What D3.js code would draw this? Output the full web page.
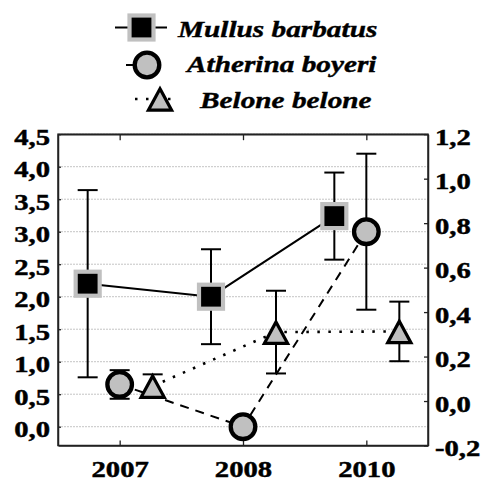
<!DOCTYPE html>
<html>
<head>
<meta charset="utf-8">
<script src="https://cdn.jsdelivr.net/npm/d3@7/dist/d3.min.js"></script>
<style>
  html, body { margin: 0; padding: 0; background: #fff; }
  svg { display: block; }
</style>
</head>
<body>
<svg id="chart" width="482" height="483"></svg>
<script>
// Sampling years
const years = ["2007", "2008", "2010"];

// Mullus barbatus (left axis): mean and half-width of the error bar
const mullusMean = [2.2, 2.0, 3.24];
const mullusErr  = [1.44, 0.73, 0.67];

// Atherina boyeri (left axis)
const atherinaMean = [0.65, 0.0, 3.0];
const atherinaErr  = [0.22, 0.0, 1.2];

// Belone belone (right axis)
const beloneMean = [0.067, 0.31, 0.313];
const beloneErr  = [0.053, 0.186, 0.134];

// Axis ticks
const leftTicks  = [0, 0.5, 1, 1.5, 2, 2.5, 3, 3.5, 4, 4.5];
const rightTicks = [-0.2, 0, 0.2, 0.4, 0.6, 0.8, 1.0, 1.2];

const seriesNames = ["Mullus barbatus", "Atherina boyeri", "Belone belone"];

const svg = d3.select("#chart");
const GRAY = "#c0c0c0";
const SX = 1.22;          // horizontal stretch of the lettering
const FONT = 23.5;
const FAMILY = "'Liberation Serif', 'Times New Roman', serif";

const plot = { left: 58, right: 428, top: 134.2, bottom: 445.5 };

const locale = d3.formatLocale({ decimal: ",", thousands: " ", grouping: [3], currency: ["", ""], minus: "-" });
const fmt = locale.format(".1f");

const x = d3.scalePoint().domain(years).range([plot.left, plot.right]).padding(0.5);
const yL = d3.scaleLinear().domain([-0.289, 4.5]).range([plot.bottom, plot.top]);
const yR = d3.scaleLinear().domain([-0.2, 1.2]).range([plot.bottom, plot.top]);

// Grid lines on the left-axis ticks
svg.append("g").selectAll("line").data(leftTicks).join("line")
  .attr("x1", plot.left).attr("x2", plot.right)
  .attr("y1", d => yL(d)).attr("y2", d => yL(d))
  .attr("stroke", "#c4c4c4").attr("stroke-width", 1)
  .attr("stroke-dasharray", "2,1");

// Frame
svg.append("rect")
  .attr("x", plot.left).attr("y", plot.top)
  .attr("width", plot.right - plot.left).attr("height", plot.bottom - plot.top)
  .attr("fill", "none").attr("stroke", "#222").attr("stroke-width", 1.5);

function styleAxis(g) {
  g.select(".domain").attr("stroke", "#222").attr("stroke-width", 1.5);
  g.selectAll(".tick line").attr("stroke", "#222").attr("stroke-width", 1.3);
  g.selectAll(".tick text")
    .style("font-size", FONT + "px")
    .style("font-family", FAMILY)
    .style("font-weight", "bold")
    .attr("fill", "#000")
    .attr("stroke", "#000").attr("stroke-width", 0.45)
    .attr("transform", `scale(${SX},1)`);
}

// Left axis
svg.append("g").attr("transform", `translate(${plot.left},0)`)
  .call(d3.axisLeft(yL).tickValues(leftTicks).tickFormat(fmt)
    .tickSizeInner(-3).tickSizeOuter(0).tickPadding(6.5))
  .call(styleAxis)
  .call(g => g.selectAll(".tick text").attr("dy", "0.43em"));

// Right axis
svg.append("g").attr("transform", `translate(${plot.right},0)`)
  .call(d3.axisRight(yR).tickValues(rightTicks).tickFormat(fmt)
    .tickSizeInner(-4).tickSizeOuter(0).tickPadding(5.7))
  .call(styleAxis)
  .call(g => g.selectAll(".tick text").attr("dy", "0.43em"));

// Bottom axis
svg.append("g").attr("transform", `translate(0,${plot.bottom})`)
  .call(d3.axisBottom(x).tickSizeInner(-5).tickSizeOuter(0).tickPadding(14.8))
  .call(styleAxis);

// Top axis (ticks only)
svg.append("g").attr("transform", `translate(0,${plot.top})`)
  .call(d3.axisTop(x).tickSizeInner(-6).tickSizeOuter(0).tickFormat(""))
  .call(styleAxis);

// Series definitions
const series = [
  { name: seriesNames[0], mean: mullusMean, err: mullusErr, y: yL, dx: -32, dash: null, marker: "square" },
  { name: seriesNames[1], mean: atherinaMean, err: atherinaErr, y: yL, dx: 0, dash: "9,7", marker: "circle" },
  { name: seriesNames[2], mean: beloneMean, err: beloneErr, y: yR, dx: 33, dash: "2.5,8.5", marker: "triangle" }
];

series.forEach(s => {
  s.pts = years.map((yr, i) => ({
    cx: x(yr) + s.dx,
    cy: s.y(s.mean[i]),
    lo: s.y(s.mean[i] - s.err[i]),
    hi: s.y(s.mean[i] + s.err[i]),
    err: s.err[i]
  }));
});

// Error bars
const errG = svg.append("g");
series.forEach(s => {
  const g = errG.append("g").selectAll("g").data(s.pts.filter(p => p.err > 0)).join("g");
  g.append("line").attr("x1", p => p.cx).attr("x2", p => p.cx)
    .attr("y1", p => p.lo).attr("y2", p => p.hi);
  g.append("line").attr("x1", p => p.cx - 10).attr("x2", p => p.cx + 10)
    .attr("y1", p => p.hi).attr("y2", p => p.hi);
  g.append("line").attr("x1", p => p.cx - 10).attr("x2", p => p.cx + 10)
    .attr("y1", p => p.lo).attr("y2", p => p.lo);
  g.selectAll("line").attr("stroke", "#000").attr("stroke-width", 2);
});

// Connecting lines
const lineGen = d3.line().x(p => p.cx).y(p => p.cy);
series.forEach(s => {
  svg.append("path").datum(s.pts)
    .attr("d", lineGen)
    .attr("fill", "none").attr("stroke", "#000")
    .attr("stroke-width", s.marker === "triangle" ? 2.6 : 2)
    .attr("stroke-dasharray", s.dash);
});

// Marker drawing
function drawMarker(sel, type) {
  if (type === "square") {
    sel.append("rect").attr("x", -12).attr("y", -12).attr("width", 24).attr("height", 24)
      .attr("fill", "#000").attr("stroke", GRAY).attr("stroke-width", 4.2);
  } else if (type === "circle") {
    sel.append("circle").attr("r", 12.3)
      .attr("fill", GRAY).attr("stroke", "#000").attr("stroke-width", 4.3);
  } else {
    sel.append("path").attr("d", "M0,-10.2 L11.6,11.2 L-11.6,11.2 Z")
      .attr("fill", GRAY).attr("stroke", "#000").attr("stroke-width", 3.2)
      .attr("stroke-linejoin", "miter");
  }
}

series.forEach(s => {
  svg.append("g").selectAll("g").data(s.pts).join("g")
    .attr("transform", p => `translate(${p.cx},${p.cy})`)
    .each(function () { drawMarker(d3.select(this), s.marker); });
});

// Legend
const legendRows = [
  { sym: [141.5, 27.5], seg: [115, 167], text: [178, 36.5] },
  { sym: [147, 65], seg: [126, 140], text: [187, 72] },
  { sym: [160, 99], seg: [135, 177], text: [200, 108] }
];
const legend = svg.append("g");
series.forEach((s, i) => {
  const r = legendRows[i];
  legend.append("line")
    .attr("x1", r.seg[0]).attr("x2", r.seg[1])
    .attr("y1", r.sym[1]).attr("y2", r.sym[1])
    .attr("stroke", "#000").attr("stroke-width", s.marker === "triangle" ? 2.6 : 2)
    .attr("stroke-dasharray", s.marker === "circle" ? "8,30" : s.dash);
  const m = legend.append("g").attr("transform", `translate(${r.sym[0]},${r.sym[1]})`);
  drawMarker(m, s.marker);
  legend.append("text")
    .attr("transform", `translate(${r.text[0]},${r.text[1]}) scale(${SX},1)`)
    .style("font-size", "24px")
    .style("font-family", FAMILY)
    .style("font-weight", "bold")
    .style("font-style", "italic")
    .attr("fill", "#000")
    .attr("stroke", "#000").attr("stroke-width", 0.4)
    .text(s.name);
});
</script>
</body>
</html>
